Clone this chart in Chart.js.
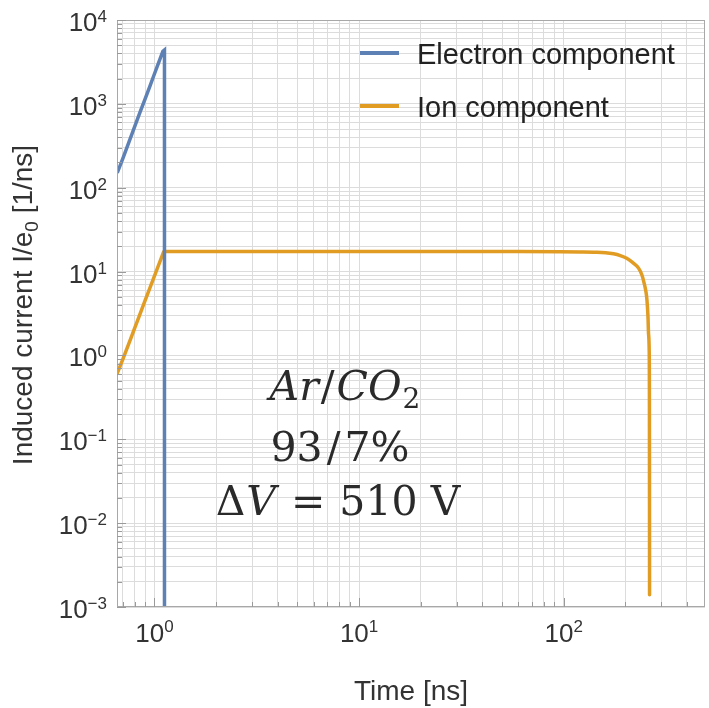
<!DOCTYPE html>
<html>
<head>
<meta charset="utf-8">
<script src="https://cdn.jsdelivr.net/npm/chart.js@4/dist/chart.umd.min.js"></script>
<style>
  html, body { margin: 0; padding: 0; background: #ffffff; }
  canvas { display: block; }
</style>
</head>
<body>
<canvas id="chart" width="709" height="708"></canvas>
<script>
// Induced current on the readout, split into electron and ion parts (log-log)
const electronTime    = [0.658, 0.70, 0.75, 0.80, 0.85, 0.90, 0.95, 1.00, 1.05, 1.10, 1.12, 1.12];
const electronCurrent = [150, 221, 348, 530, 790, 1140, 1620, 2270, 3130, 4240, 4400, 0.001];

const ionTime    = [0.658, 0.70, 0.80, 0.90, 1.00, 1.10, 1.11, 2, 5, 10, 30, 60, 96, 120, 140, 160, 175, 189, 203, 219, 232, 241, 247, 252, 255, 258, 259.5, 261.5, 262.2, 262.4, 262.6];
const ionCurrent = [0.61, 0.89, 2.1, 4.5, 8.8, 16.3, 17.3, 17.3, 17.3, 17.3, 17.3, 17.3, 17.2, 17.1, 17.0, 16.8, 16.3, 15.5, 14.4, 12.6, 11.0, 9.1, 7.3, 5.8, 4.6, 2.9, 1.85, 1.17, 0.3, 0.033, 0.0014];

const seriesNames  = ['Electron component', 'Ion component'];
const seriesColors = ['#5E81B5', '#E19C24'];

// axis extent
const timeRange    = [0.6565, 490];
const currentRange = [1e-3, 1e4];

// decade labels (exponents of 10)
const timeDecades    = [0, 1, 2];
const currentDecades = [-3, -2, -1, 0, 1, 2, 3, 4];

// grid positions: every 1..9 step of each decade
const timeGrid = [0.7, 0.8, 0.9, 1, 2, 3, 4, 5, 6, 7, 8, 9, 10, 20, 30, 40, 50, 60, 70, 80, 90, 100, 200, 300, 400];
const currentGrid = [];
for (let e = -3; e <= 3; e++) {
  for (let k = 1; k <= 9; k++) currentGrid.push(+(k * Math.pow(10, e)).toPrecision(3));
}
currentGrid.push(1e4);

const voltage = '510 V';

const SANS  = '"Liberation Sans", Arial, sans-serif';
const SERIF = '"DejaVu Serif", serif';

function toPoints(xs, ys) { return xs.map((x, i) => ({ x: x, y: ys[i] })); }

function isMajor(v) {
  const l = Math.log10(v);
  return Math.abs(l - Math.round(l)) < 1e-9;
}

function drawRun(ctx, parts, cx, baseline) {
  let total = 0;
  parts.forEach(p => { ctx.font = p.font; p.w = ctx.measureText(p.t).width + (p.gap || 0) + (p.pre || 0); total += p.w; });
  let x = cx - total / 2;
  parts.forEach(p => {
    ctx.font = p.font;
    ctx.fillText(p.t, x + (p.pre || 0), baseline + (p.dy || 0));
    x += p.w;
  });
}

const decorations = {
  id: 'decorations',
  afterDraw(chart) {
    const ctx = chart.ctx;
    const area = chart.chartArea;
    const xs = chart.scales.x, ys = chart.scales.y;
    ctx.save();

    // frame
    ctx.strokeStyle = '#a8a8a8';
    ctx.lineWidth = 1;
    ctx.strokeRect(Math.round(area.left) + 0.5, Math.round(area.top) + 0.5,
                   Math.round(area.right - area.left) - 1, Math.round(area.bottom - area.top) - 1);

    // inward tick marks
    ctx.strokeStyle = '#9a9a9a';
    ctx.beginPath();
    timeGrid.forEach(v => {
      const px = Math.round(xs.getPixelForValue(v)) + 0.5;
      const len = isMajor(v) ? 9 : 5;
      ctx.moveTo(px, area.bottom); ctx.lineTo(px, area.bottom - len);
    });
    currentGrid.forEach(v => {
      const py = Math.round(ys.getPixelForValue(v)) + 0.5;
      const len = isMajor(v) ? 9 : 5;
      ctx.moveTo(area.left, py); ctx.lineTo(area.left + len, py);
    });
    ctx.stroke();

    // decade labels
    ctx.fillStyle = '#333333';
    ctx.textBaseline = 'alphabetic';
    const mainFont = '26px ' + SANS, supFont = '17px ' + SANS;
    timeDecades.forEach(e => {
      const px = xs.getPixelForValue(Math.pow(10, e));
      const sup = String(e).replace('-', '\u2212');
      ctx.font = mainFont; const w1 = ctx.measureText('10').width;
      ctx.font = supFont;  const w2 = ctx.measureText(sup).width;
      const x0 = px - (w1 + w2) / 2;
      ctx.textAlign = 'left';
      ctx.font = mainFont; ctx.fillText('10', x0, 642);
      ctx.font = supFont;  ctx.fillText(sup, x0 + w1, 632);
    });
    currentDecades.forEach(e => {
      const py = ys.getPixelForValue(Math.pow(10, e));
      const sup = String(e).replace('-', '\u2212');
      ctx.font = mainFont; const w1 = ctx.measureText('10').width;
      ctx.font = supFont;  const w2 = ctx.measureText(sup).width;
      const right = 107;
      ctx.textAlign = 'left';
      ctx.font = mainFont; ctx.fillText('10', right - w2 - w1, py + 11);
      ctx.font = supFont;  ctx.fillText(sup, right - w2, py + 2);
    });

    // axis titles
    ctx.fillStyle = '#333333';
    ctx.textAlign = 'center';
    ctx.font = '28px ' + SANS;
    ctx.fillText('Time [ns]', (area.left + area.right) / 2, 700);

    ctx.save();
    ctx.translate(32, 305);
    ctx.rotate(-Math.PI / 2);
    ctx.textAlign = 'left';
    drawRun(ctx, [
      { t: 'Induced current I/e', font: '28px ' + SANS },
      { t: '0', font: '19px ' + SANS, dy: 6 },
      { t: ' [1/ns]', font: '28px ' + SANS }
    ], 0, 0);
    ctx.restore();

    // legend
    ctx.textAlign = 'left';
    ctx.font = '29px ' + SANS;
    const legendRows = [53, 106];
    chart.data.datasets.forEach((ds, i) => {
      const y = legendRows[i];
      ctx.strokeStyle = ds.borderColor;
      ctx.lineWidth = 4;
      ctx.beginPath(); ctx.moveTo(360, y); ctx.lineTo(399, y); ctx.stroke();
      ctx.fillStyle = '#222222';
      ctx.fillText(ds.label, 417, y + 10.5);
    });

    // gas / voltage note
    ctx.fillStyle = '#2a2a2a';
    ctx.textAlign = 'left';
    const up = '41px ' + SERIF, it = 'italic 41px ' + SERIF;
    drawRun(ctx, [
      { t: 'Ar', font: it, gap: 2 },
      { t: '/', font: up, gap: 2 },
      { t: 'CO', font: it, gap: 1 },
      { t: '2', font: '28px ' + SERIF, dy: 8 }
    ], 345, 400);
    drawRun(ctx, [
      { t: '93', font: up, gap: 2 },
      { t: '/', font: up, gap: 4, pre: 2 },
      { t: '7%', font: up }
    ], 340, 461);
    drawRun(ctx, [
      { t: '\u0394', font: up, gap: 1 },
      { t: 'V', font: it, gap: 9 },
      { t: '=', font: up, gap: 14, pre: 6 },
      { t: voltage, font: up }
    ], 338, 515);

    ctx.restore();
  }
};

new Chart(document.getElementById('chart'), {
  type: 'line',
  data: {
    datasets: [
      {
        label: seriesNames[0],
        data: toPoints(electronTime, electronCurrent),
        borderColor: seriesColors[0],
        borderWidth: 3.5,
        pointRadius: 0,
        tension: 0,
        fill: false
      },
      {
        label: seriesNames[1],
        data: toPoints(ionTime, ionCurrent),
        borderColor: seriesColors[1],
        borderWidth: 3.5,
        pointRadius: 0,
        cubicInterpolationMode: 'monotone',
        borderCapStyle: 'round',
        fill: false
      }
    ]
  },
  options: {
    responsive: false,
    animation: false,
    devicePixelRatio: 1,
    layout: { padding: { left: 117, top: 20, right: 4, bottom: 101 } },
    plugins: { legend: { display: false }, tooltip: { enabled: false }, title: { display: false } },
    scales: {
      x: {
        type: 'logarithmic',
        min: timeRange[0],
        max: timeRange[1],
        afterBuildTicks: axis => { axis.ticks = timeGrid.map(v => ({ value: v })); },
        ticks: { display: false },
        grid: { color: '#dcdcdc', lineWidth: 1, drawTicks: false },
        border: { display: false }
      },
      y: {
        type: 'logarithmic',
        min: currentRange[0],
        max: currentRange[1],
        afterBuildTicks: axis => { axis.ticks = currentGrid.map(v => ({ value: v })); },
        ticks: { display: false },
        grid: { color: '#dcdcdc', lineWidth: 1, drawTicks: false },
        border: { display: false }
      }
    }
  },
  plugins: [decorations]
});
</script>
</body>
</html>
